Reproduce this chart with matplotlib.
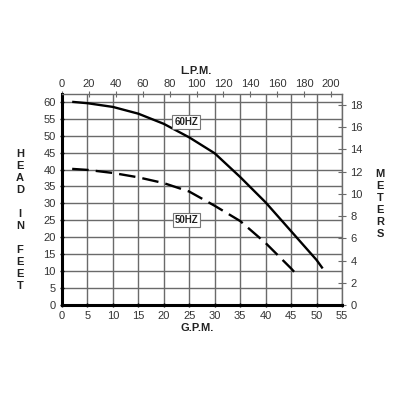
import matplotlib.pyplot as plt

#----------------------------------------------------------
# curve readings (GPM vs feet of head)
gpm_60=[2, 5, 10, 15, 20, 25, 30, 35, 40, 45, 50, 51.2]
ft_60=[60, 59.6, 58.5, 56.5, 53.5, 49.5, 44.8, 37.8, 30.3, 21.8, 13.3, 10.8]
gpm_50=[2, 5, 10, 15, 20, 25, 30, 35, 40, 45, 45.6]
ft_50=[40.2, 39.9, 39, 37.7, 36, 33.5, 29.3, 24.8, 18.3, 10.8, 9.8]

gpm_ticks=list(range(0, 56, 5))
ft_ticks=list(range(0, 61, 5))
lpm_ticks=list(range(0, 201, 20))
m_ticks=list(range(0, 19, 2))

L_PER_GAL=3.785
FT_PER_M=3.281

#----------------------------------------------------------
plt.rcParams['font.family']=['Liberation Sans', 'DejaVu Sans']
txt_col='#333333'
grid_col='#6a6a6a'

fig=plt.figure(figsize=(4, 4), dpi=100)
ax=fig.add_axes([0.155, 0.2375, 0.70, 0.5265])

ax.set_xlim(0, 55)
ax.set_ylim(0, 62.2)
ax.set_xticks(gpm_ticks)
ax.set_yticks(ft_ticks)
ax.grid(True, color=grid_col, lw=1)
ax.set_axisbelow(True)
ax.tick_params(labelsize=8, labelcolor=txt_col, length=3, width=1, direction='inout', pad=3)

for s in ['left', 'bottom']:
	ax.spines[s].set_linewidth(2.2)
	ax.spines[s].set_color('black')
for s in ['top', 'right']:
	ax.spines[s].set_linewidth(1)
	ax.spines[s].set_color(grid_col)

#curves
ax.plot(gpm_60, ft_60, color='black', lw=1.7, solid_capstyle='butt')
ax.plot(gpm_50, ft_50, color='black', lw=1.7, dashes=(7, 3))

#labels on curves
box=dict(boxstyle='square,pad=0.2', fc='white', ec='#777777', lw=0.8)
ax.text(24.4, 54, '60HZ', fontsize=7, weight='bold', ha='center', va='center', bbox=box, color='#222222')
ax.text(24.5, 25.2, '50HZ', fontsize=7, weight='bold', ha='center', va='center', bbox=box, color='#222222')

#top LPM axis
ax_top=ax.secondary_xaxis('top', functions=(lambda g: g*L_PER_GAL, lambda l: l/L_PER_GAL))
ax_top.set_xticks(lpm_ticks)
ax_top.tick_params(labelsize=8, labelcolor=txt_col, length=4, width=0.8, direction='inout', color=grid_col, pad=2)
ax_top.spines['top'].set_visible(False)

#right meters axis
ax_r=ax.secondary_yaxis('right', functions=(lambda f: f/FT_PER_M, lambda m: m*FT_PER_M))
ax_r.set_yticks(m_ticks)
ax_r.tick_params(labelsize=8, labelcolor=txt_col, length=6, width=0.8, direction='inout', color=grid_col, pad=3)
ax_r.spines['right'].set_visible(False)

#axis titles
fig.text(0.489, 0.822, 'L.P.M.', fontsize=8, weight='bold', ha='center', va='center', color='#222222')
fig.text(0.492, 0.180, 'G.P.M.', fontsize=8, weight='bold', ha='center', va='center', color='#222222')
l_head=['H', 'E', 'A', 'D', ' ', 'I', 'N', ' ', 'F', 'E', 'E', 'T']
fig.text(0.05, 0.449, '\n'.join(l_head), fontsize=8, weight='bold', ha='center', va='center', linespacing=1.25, color='#222222')
fig.text(0.95, 0.491, '\n'.join(list('METERS')), fontsize=8, weight='bold', ha='center', va='center', linespacing=1.25, color='#222222')

plt.savefig('out.png', dpi=100)
plt.close()
